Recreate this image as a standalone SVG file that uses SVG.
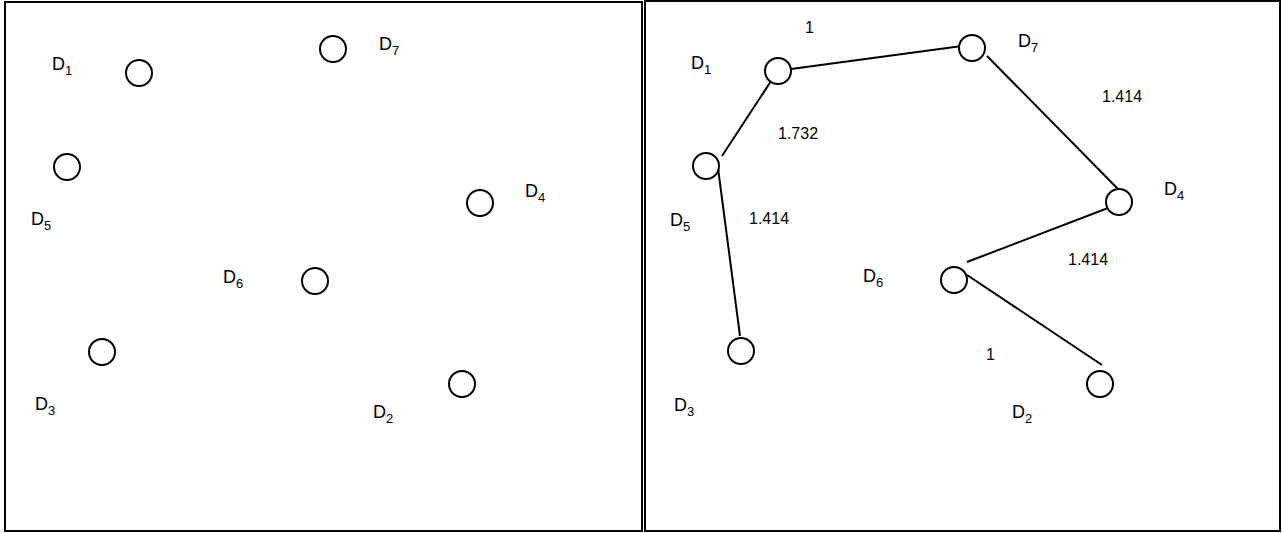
<svg xmlns="http://www.w3.org/2000/svg" width="1283" height="533" viewBox="0 0 1283 533">
<style>
.frame{fill:none;stroke:#000;stroke-width:2}
.node circle{fill:#fff;stroke:#000;stroke-width:2}
.lbl{font-family:"Liberation Sans",Arial,sans-serif;font-size:18px;fill:#000}
.sub{font-size:13px}
.num{font-family:"Liberation Sans",Arial,sans-serif;font-size:16px;fill:#000}
#connectors line{stroke:#000;stroke-width:2}
</style>
<rect width="1283" height="533" fill="#fff"/>
<rect class="frame" x="5" y="2" width="637" height="529"/>
<rect class="frame" x="645" y="1" width="635" height="530"/>

<g id="left-panel">
<g id="L-D1" class="node"><circle cx="139" cy="73" r="13"/><text class="lbl" x="52" y="70">D<tspan class="sub" dy="5">1</tspan></text></g>
<g id="L-D7" class="node"><circle cx="333" cy="49" r="13"/><text class="lbl" x="379" y="50">D<tspan class="sub" dy="5">7</tspan></text></g>
<g id="L-D5" class="node"><circle cx="67" cy="167" r="13"/><text class="lbl" x="31" y="225">D<tspan class="sub" dy="5">5</tspan></text></g>
<g id="L-D4" class="node"><circle cx="480" cy="203" r="13"/><text class="lbl" x="525" y="197">D<tspan class="sub" dy="5">4</tspan></text></g>
<g id="L-D6" class="node"><circle cx="315" cy="281" r="13"/><text class="lbl" x="223" y="283">D<tspan class="sub" dy="5">6</tspan></text></g>
<g id="L-D3" class="node"><circle cx="102" cy="352" r="13"/><text class="lbl" x="35" y="410">D<tspan class="sub" dy="5">3</tspan></text></g>
<g id="L-D2" class="node"><circle cx="462" cy="384" r="13"/><text class="lbl" x="373" y="418">D<tspan class="sub" dy="5">2</tspan></text></g>
</g>

<g id="connectors">
<line x1="791" y1="69" x2="962" y2="46"/>
<line x1="773" y1="78" x2="722" y2="156"/>
<line x1="718" y1="168" x2="740" y2="336"/>
<line x1="987" y1="56" x2="1118" y2="189"/>
<line x1="1108" y1="208" x2="967" y2="262"/>
<line x1="967" y1="275" x2="1102" y2="365"/>
</g>

<g id="right-panel">
<g id="R-D1" class="node"><circle cx="778" cy="71" r="13"/><text class="lbl" x="691" y="69">D<tspan class="sub" dy="5">1</tspan></text></g>
<g id="R-D7" class="node"><circle cx="972" cy="48" r="13"/><text class="lbl" x="1018" y="47">D<tspan class="sub" dy="5">7</tspan></text></g>
<g id="R-D5" class="node"><circle cx="706" cy="166" r="13"/><text class="lbl" x="670" y="226">D<tspan class="sub" dy="5">5</tspan></text></g>
<g id="R-D4" class="node"><circle cx="1119" cy="202" r="13"/><text class="lbl" x="1164" y="195">D<tspan class="sub" dy="5">4</tspan></text></g>
<g id="R-D6" class="node"><circle cx="954" cy="280" r="13"/><text class="lbl" x="863" y="282">D<tspan class="sub" dy="5">6</tspan></text></g>
<g id="R-D3" class="node"><circle cx="741" cy="351" r="13"/><text class="lbl" x="674" y="411">D<tspan class="sub" dy="5">3</tspan></text></g>
<g id="R-D2" class="node"><circle cx="1100" cy="384" r="13"/><text class="lbl" x="1012" y="418">D<tspan class="sub" dy="5">2</tspan></text></g>
</g>

<g id="edge-labels">
<text class="num" x="805" y="33">1</text>
<text class="num" x="778" y="139">1.732</text>
<text class="num" x="1102" y="102">1.414</text>
<text class="num" x="749" y="224">1.414</text>
<text class="num" x="1068" y="265">1.414</text>
<text class="num" x="986" y="360">1</text>
</g>
</svg>
